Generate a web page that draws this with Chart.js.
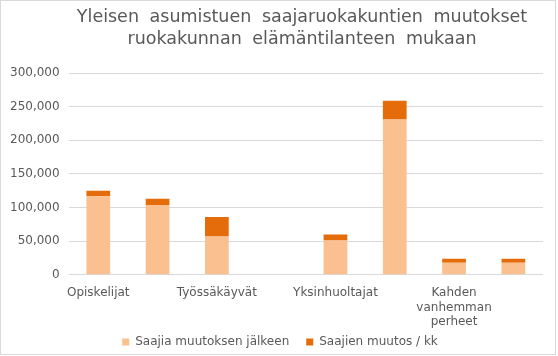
<!DOCTYPE html>
<html>
<head>
<meta charset="utf-8">
<script src="https://cdn.jsdelivr.net/npm/chart.js@4/dist/chart.umd.min.js"></script>
<style>
html,body{margin:0;padding:0;background:#fff;}
#wrap{position:absolute;left:0;top:0;width:554px;height:353px;border:1px solid #D9D9D9;background:#fff;}
canvas{display:block;}
</style>
</head>
<body>
<div id="wrap"><canvas id="c" width="554" height="353"></canvas></div>
<script>
const categories = [
  "Opiskelijat",
  "Työttömät",
  "Työssäkäyvät",
  "Eläkeläiset",
  "Yksinhuoltajat",
  "Yksin asuvat",
  ["Kahden", "vanhemman", "perheet"],
  "Muut"
];
const afterChange = [117000, 104000, 57000, 0, 51000, 231000, 18000, 18000];
const changePerMonth = [8000, 9000, 29000, 0, 9000, 28000, 6000, 6000];
const seriesNames = ["Saajia muutoksen jälkeen", "Saajien muutos / kk"];
const titleLines = ["Yleisen asumistuen saajaruokakuntien muutokset", "ruokakunnan elämäntilanteen mukaan"];
const yTicks = [0, 50000, 100000, 150000, 200000, 250000, 300000];

Chart.defaults.font.family = "'DejaVu Sans', sans-serif";
Chart.defaults.color = "#595959";

// Excel-like word spacing in the title; title and legend nudged into place
const excelLook = {
  id: 'excelLook',
  beforeDraw(chart) {
    const t = chart.titleBlock;
    if (t && !t._wsWrapped) {
      const orig = t.draw;
      t.draw = function(...args) {
        const ctx = chart.ctx;
        const prev = ctx.wordSpacing;
        ctx.wordSpacing = '5px';
        orig.apply(this, args);
        ctx.wordSpacing = prev || '0px';
      };
      t._wsWrapped = true;
    }
  },
  afterLayout(chart) {
    const t = chart.titleBlock;
    if (t) { t.left += 30; t.right += 30; }
    const l = chart.legend;
    if (l) {
      l.top -= 13; l.bottom -= 13;
      l.left += 8; l.right += 8;
    }
  }
};

new Chart(document.getElementById('c'), {
  type: 'bar',
  data: {
    labels: categories,
    datasets: [
      { label: seriesNames[0], data: afterChange, backgroundColor: '#FAC090', borderWidth: 0 },
      { label: seriesNames[1], data: changePerMonth, backgroundColor: '#E46C0A', borderWidth: 0 }
    ]
  },
  plugins: [excelLook],
  options: {
    responsive: false,
    animation: false,
    layout: { padding: { left: 0, right: 12, top: 0, bottom: -17 } },
    datasets: { bar: { categoryPercentage: 1.0, barPercentage: 0.4 } },
    plugins: {
      title: {
        display: true,
        fullSize: true,
        text: titleLines,
        font: { size: 17.5, weight: 'normal', lineHeight: 1.26 },
        color: '#595959',
        padding: { top: 5, bottom: 23 }
      },
      legend: {
        position: 'bottom',
        labels: { boxWidth: 7, boxHeight: 7, font: { size: 12 }, color: '#595959', padding: 17 }
      },
      tooltip: { enabled: false }
    },
    scales: {
      x: {
        stacked: true,
        grid: { display: false },
        border: { display: false },
        ticks: {
          autoSkip: false,
          maxRotation: 0,
          font: { size: 12 },
          color: '#595959',
          padding: 3,
          callback: function(v, i) { return i % 2 === 0 ? this.getLabelForValue(v) : ''; }
        }
      },
      y: {
        stacked: true,
        min: 0,
        max: 300000,
        grid: { color: '#D9D9D9', lineWidth: 1, drawTicks: false },
        border: { display: false },
        afterBuildTicks: s => { s.ticks = yTicks.map(v => ({ value: v })); },
        ticks: {
          font: { size: 12 },
          color: '#595959',
          padding: 9,
          callback: v => v.toLocaleString('en-US')
        }
      }
    }
  }
});
</script>
</body>
</html>
